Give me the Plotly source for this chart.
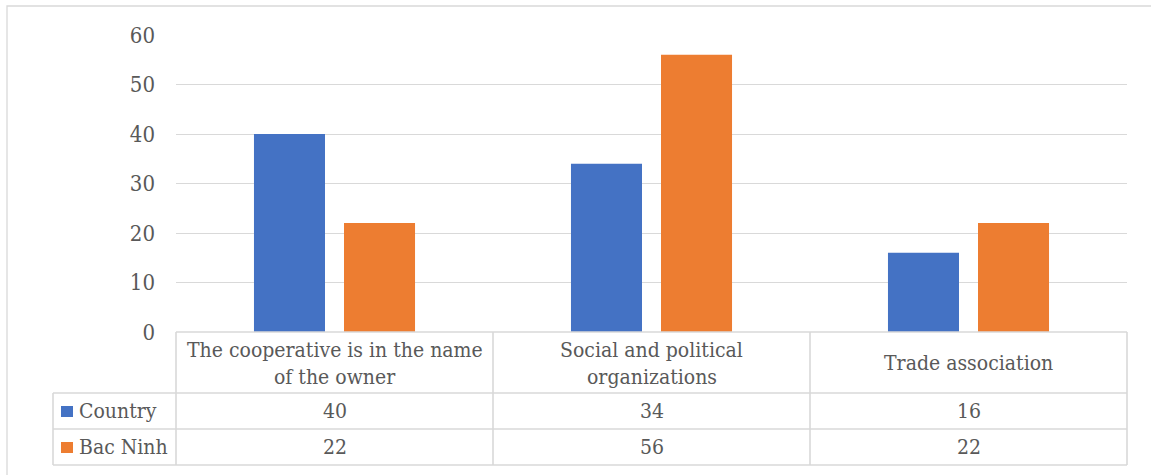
import plotly.graph_objects as go

categories = ["The cooperative is in the name of the owner",
              "Social and political organizations",
              "Trade association"]
header_lines = [["The cooperative is in the name", "of the owner"],
                ["Social and political", "organizations"],
                ["Trade association"]]
series_names = ["Country", "Bac Ninh"]
country = [40, 34, 16]
bac_ninh = [22, 56, 22]
colors = ["#4472C4", "#ED7D31"]
y_ticks = [0, 10, 20, 30, 40, 50, 60]

W, H = 1151, 475
L, R, T, B = 176, 1127, 35, 332  # plot area in px
FONT = "DejaVu Serif Condensed"
FS = 21
TXT = "#595959"
LINE = "#D9D9D9"

def px(x):
    return (x - L) / (R - L)

def py(y):
    return (B - y) / (B - T)

fig = go.Figure()
for name, vals, c in zip(series_names, [country, bac_ninh], colors):
    fig.add_trace(go.Bar(x=categories, y=vals, name=name, marker=dict(color=c, line=dict(width=0)),
                         showlegend=False))

shapes = []
shapes.append(dict(type="rect", xref="paper", yref="paper", x0=px(7), x1=px(1165), y0=py(6), y1=py(490),
                   line=dict(color=LINE, width=1.3), layer="below"))
def hline(y, x0, x1):
    shapes.append(dict(type="line", xref="paper", yref="paper", x0=px(x0), x1=px(x1), y0=py(y), y1=py(y),
                       line=dict(color=LINE, width=1.6)))
def vline(x, y0, y1):
    shapes.append(dict(type="line", xref="paper", yref="paper", x0=px(x), x1=px(x), y0=py(y0), y1=py(y1),
                       line=dict(color=LINE, width=1.6)))
row_y = [332, 393, 429, 465]
col_x = [176, 493, 810, 1127]
hline(row_y[0], L, R)
for y in row_y[1:]:
    hline(y, 53, R)
for x in col_x:
    vline(x, row_y[0], row_y[3])
vline(53, row_y[1], row_y[3])

annotations = []
def text(x, y, s, anchor="center"):
    annotations.append(dict(xref="paper", yref="paper", x=px(x), y=py(y), text=s, showarrow=False,
                            xanchor=anchor, yanchor="middle", font=dict(family=FONT, size=FS, color=TXT)))

centers = [(col_x[i] + col_x[i + 1]) / 2 for i in range(3)]
for cx, lines in zip(centers, header_lines):
    if len(lines) == 2:
        text(cx, 350, lines[0])
        text(cx, 377, lines[1])
    else:
        text(cx, 363, lines[0])

for ry, name, vals, c in zip([411, 447], series_names, [country, bac_ninh], colors):
    shapes.append(dict(type="rect", xref="paper", yref="paper", x0=px(61), x1=px(73), y0=py(ry - 5), y1=py(ry + 6),
                       fillcolor=c, line=dict(width=0)))
    text(77, ry, name, anchor="left")
    for cx, v in zip(centers, vals):
        text(cx, ry, str(v))

fig.update_layout(
    width=W, height=H,
    margin=dict(l=L, r=W - R, t=T, b=H - B),
    paper_bgcolor="white", plot_bgcolor="white",
    barmode="group", bargap=0.432, bargroupgap=0.211,
    shapes=shapes, annotations=annotations,
    xaxis=dict(showticklabels=False, showgrid=False, zeroline=False, showline=False, fixedrange=True),
    yaxis=dict(range=[0, 60], tickvals=y_ticks, showgrid=True, gridcolor=LINE, gridwidth=1.3,
               zeroline=False, showline=False, ticks="", ticklabelstandoff=20,
               tickfont=dict(family=FONT, size=22, color=TXT), fixedrange=True),
    font=dict(family=FONT),
)
fig.write_html("out.html")
